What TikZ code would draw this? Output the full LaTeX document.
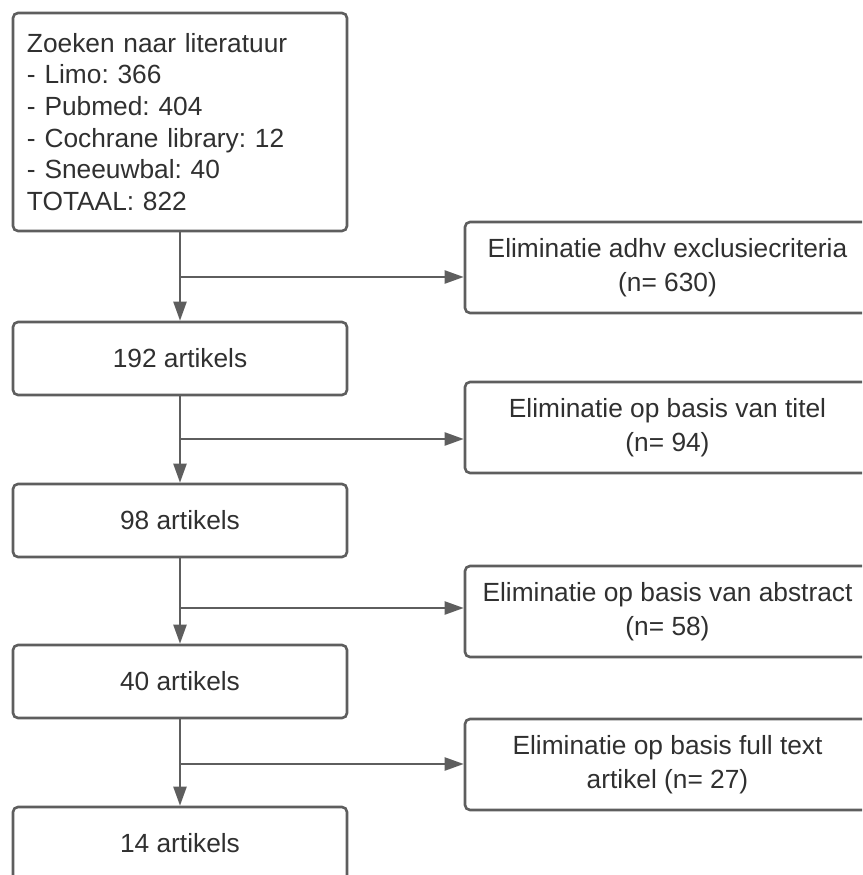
\documentclass[tikz,border=0pt]{standalone}
\usepackage{fontspec}
\setmainfont{Liberation Sans}
\usetikzlibrary{arrows.meta}
\definecolor{linegray}{HTML}{5E5E5E}
\definecolor{textgray}{HTML}{303030}
\frenchspacing
\begin{document}
\begin{tikzpicture}[x=1pt,y=-1pt,
  box/.style={draw=linegray,line width=2.6pt,rounded corners=5pt,fill=white,
    text=textgray,inner sep=0pt,align=center,font=\fontsize{26.3}{34}\selectfont},
  mainbox/.style={box,minimum width=334pt,minimum height=73pt},
  elimbox/.style={box,minimum width=405pt,minimum height=91pt},
  conn/.style={draw=linegray,line width=2.2pt,-{Triangle[length=19pt,width=13pt]}}]
\useasboundingbox (0,0) rectangle (862,875);
\clip (0,0) rectangle (862,875);
\fill[white] (0,0) rectangle (862,875);

\node[box,minimum height=218pt,text width=306pt,inner xsep=14pt,align=left,
      font=\fontsize{26.3}{31.6}\selectfont] (top) at (180,122)
  {Zoeken naar literatuur\\- Limo: 366\\- Pubmed: 404\\- Cochrane library: 12\\- Sneeuwbal: 40\\TOTAAL: 822};
\node[mainbox] (b192) at (180,358.5) {192 artikels};
\node[mainbox] (b98) at (180,520.5) {98 artikels};
\node[mainbox] (b40) at (180,681.5) {40 artikels};
\node[mainbox] (b14) at (180,843.5) {14 artikels};

\node[elimbox] (r1) at (667.5,267.5) {Eliminatie adhv exclusiecriteria\\(n= 630)};
\node[elimbox] (r2) at (667.5,427.5) {Eliminatie op basis van titel\\(n= 94)};
\node[elimbox] (r3) at (667.5,611.5) {Eliminatie op basis van abstract\\(n= 58)};
\node[elimbox] (r4) at (667.5,764.5) {Eliminatie op basis full text\\artikel (n= 27)};

\coordinate (j1) at (180,277);
\coordinate (j2) at (180,439);
\coordinate (j3) at (180,608);
\coordinate (j4) at (180,764);

\draw[conn] (top.south) -- (b192.north);
\draw[conn] (b192.south) -- (b98.north);
\draw[conn] (b98.south) -- (b40.north);
\draw[conn] (b40.south) -- (b14.north);

\draw[conn] (j1) -- (j1 -| r1.west);
\draw[conn] (j2) -- (j2 -| r2.west);
\draw[conn] (j3) -- (j3 -| r3.west);
\draw[conn] (j4) -- (j4 -| r4.west);
\end{tikzpicture}
\end{document}
